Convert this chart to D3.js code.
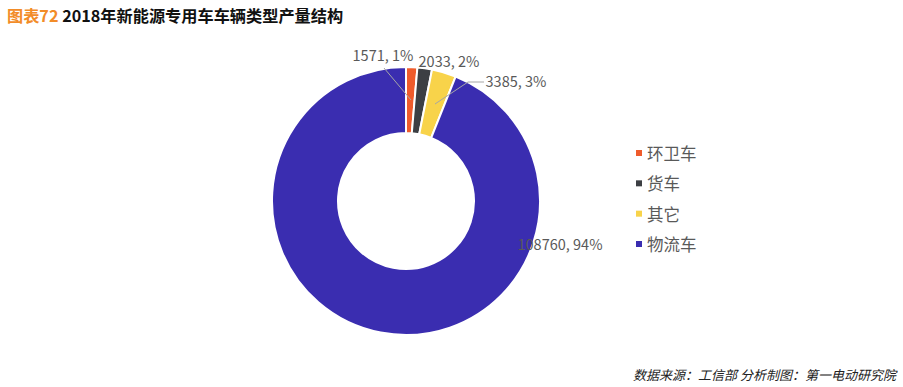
<!DOCTYPE html>
<html><head><meta charset="utf-8">
<script src="https://cdn.jsdelivr.net/npm/d3@7"></script>
<style>body{margin:0;background:#fff;}svg{display:block;font-family:"Microsoft YaHei","Noto Sans CJK SC","Noto Sans",sans-serif;}</style>
</head><body>
<svg id="c" width="903" height="387"></svg>
<script>
const categories = ["环卫车", "货车", "其它", "物流车"];
const values = [1571, 2033, 3385, 108760];
const percents = ["1%", "2%", "3%", "94%"];
const colors = ["#EF5B2B", "#3C3F43", "#F8D34A", "#3A2DB0"];

const svg = d3.select("#c");
const cx = 406, cy = 201, rOut = 134, rIn = 68;

// title
const t = svg.append("text").attr("x", 7).attr("y", 22).attr("font-size", 16.2).attr("font-weight", "bold");
t.append("tspan").attr("fill", "#F28C28").text("图表72");
t.append("tspan").attr("fill", "#111").text(" 2018年新能源专用车车辆类型产量结构");

const pie = d3.pie().sort(null).value(d => d)(values);
const arc = d3.arc().innerRadius(rIn).outerRadius(rOut);
const g = svg.append("g").attr("transform", `translate(${cx},${cy})`);

const labelPos = [
  {x: 383, y: 61, line: [[384, 68], [411, 100]]},
  {x: 449, y: 67, line: null},
  {x: 516, y: 87, line: [[435, 104], [468, 82], [484, 82]]},
  {x: 560, y: 250, line: null}
];

g.selectAll("path.s").data(pie).join("path").attr("class", "s")
  .attr("d", arc).attr("fill", (d, i) => colors[i])
  .attr("stroke", "#fff").attr("stroke-width", 2).attr("stroke-linejoin", "round");

labelPos.forEach((p, i) => {
  if (p.line) {
    svg.append("path").attr("d", d3.line()(p.line)).attr("fill", "none").attr("stroke", "#A6A6A6").attr("stroke-width", 1);
  }
  svg.append("text").attr("x", p.x).attr("y", p.y).attr("text-anchor", "middle")
    .attr("font-size", 14.5).attr("fill", "#595959")
    .text(values[i] + ", " + percents[i]);
});

// legend
const ly = d3.scalePoint().domain(categories).range([154, 245]);
const lg = svg.append("g");
categories.forEach((c, i) => {
  lg.append("rect").attr("x", 636).attr("y", ly(c) - 4).attr("width", 6).attr("height", 6).attr("fill", colors[i]);
  lg.append("text").attr("x", 647).attr("y", ly(c) + 6).attr("font-size", 16.5).attr("fill", "#595959").text(c);
});

// source
svg.append("text").attr("x", 896).attr("y", 380).attr("text-anchor", "end")
  .attr("font-size", 13).attr("font-style", "italic").attr("fill", "#222")
  .text("数据来源：工信部 分析制图：第一电动研究院");
</script>
</body></html>
